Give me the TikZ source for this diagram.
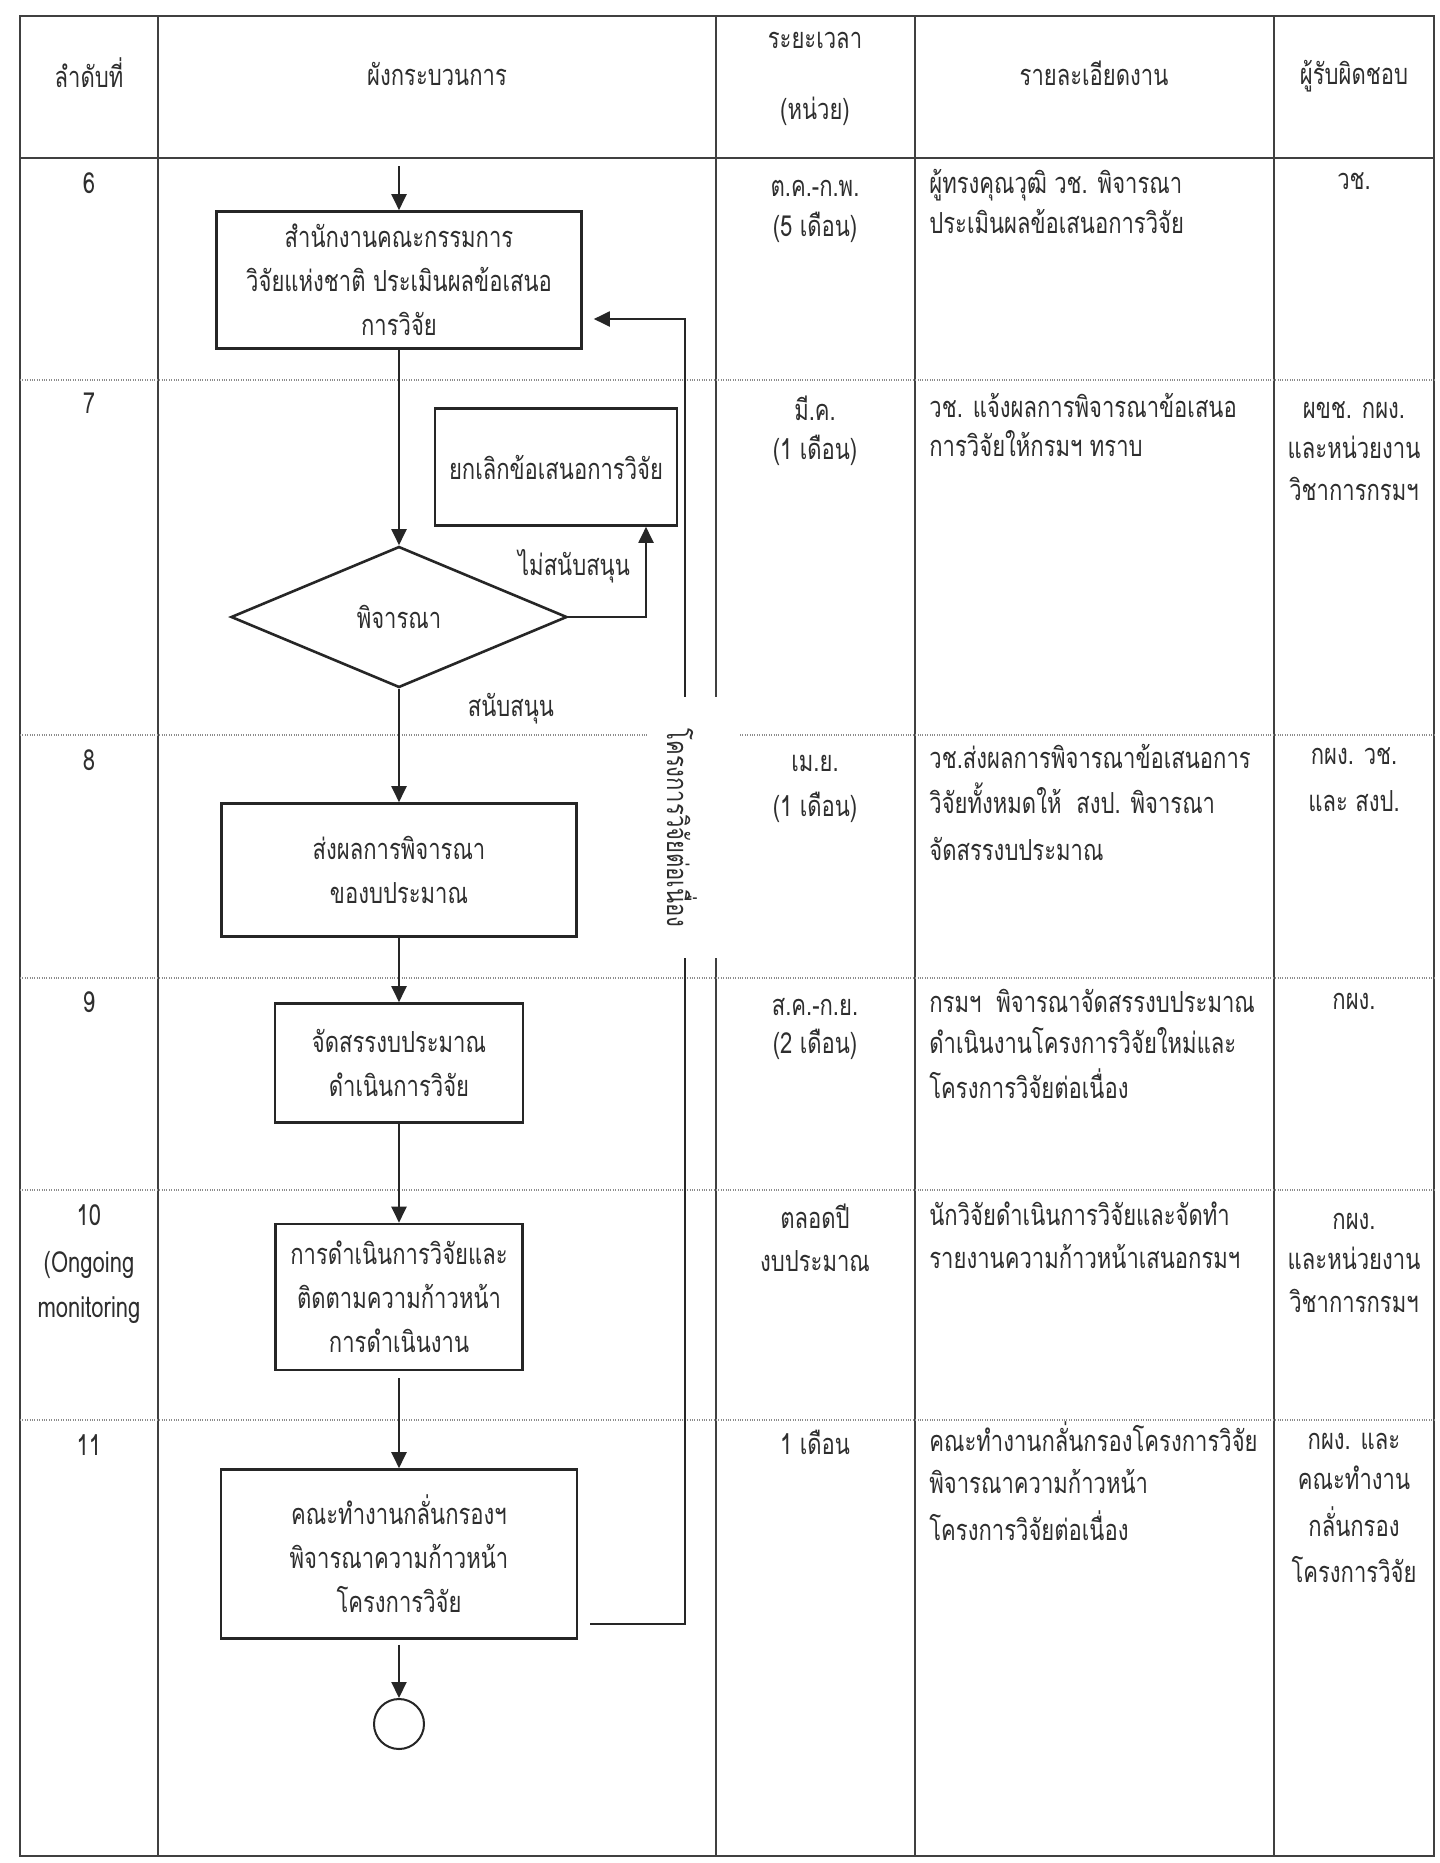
\documentclass[tikz,border=0pt]{standalone}
\usepackage{fontspec}
\newfontfamily\thai[Script=Thai,FakeStretch=0.76]{Loma}
\usetikzlibrary{arrows.meta,shapes.geometric,calc}
\begin{document}
\begin{tikzpicture}[x=0.5pt,y=-0.5pt,
 font={\thai\fontsize{14.5}{22}\selectfont},
 txt/.style={text=black!82, inner sep=0pt},
 cellc/.style={txt, anchor=base},
 celll/.style={txt, anchor=base west},
 tbl/.style={draw=black!75, line width=0.7pt},
 sep/.style={draw=black!45, line width=0.6pt, dash pattern=on 0.5pt off 0.7pt},
 box/.style={draw=black!85, line width=1.3pt, inner sep=0pt, align=center, text=black!82},
 conn/.style={draw=black!85, line width=1pt},
 arr/.style={conn, -{Triangle[length=8pt,width=7.5pt]}},
]
\useasboundingbox (0,0) rectangle (1440,1863);
\fill[white] (0,0) rectangle (1440,1863);

% table
\draw[tbl] (20,16) rectangle (1434,1856);
\draw[tbl] (20,158) -- (1434,158);
\foreach \x in {158,716,915,1274} \draw[tbl] (\x,16) -- (\x,1856);
\foreach \y in {380,735,978,1190,1420} \draw[sep] (20,\y) -- (1434,\y);

% centred cell texts
\foreach \x/\y/\t [count=\i] in {
 89/87/{ลำดับที่}, 437/85/{ผังกระบวนการ}, 815/48/{ระยะเวลา}, 815/119/{(หน่วย)},
 1094/85/{รายละเอียดงาน}, 1354/84/{ผู้รับผิดชอบ},
 89/193/{6}, 815/196/{ต.ค.-ก.พ.}, 815/236/{(5 เดือน)}, 1354/189/{วช.},
 89/413/{7}, 815/420/{มี.ค.}, 815/459/{(1 เดือน)},
 1354/418/{ผขช. กผง.}, 1354/458/{และหน่วยงาน}, 1354/500/{วิชาการกรมฯ},
 89/770/{8}, 815/771/{เม.ย.}, 815/816/{(1 เดือน)}, 1354/764/{กผง. วช.}, 1354/811/{และ สงป.},
 89/1012/{9}, 815/1015/{ส.ค.-ก.ย.}, 815/1053/{(2 เดือน)}, 1354/1009/{กผง.},
 89/1225/{10}, 89/1272/{(Ongoing}, 89/1317/{monitoring},
 815/1228/{ตลอดปี}, 815/1271/{งบประมาณ},
 1354/1229/{กผง.}, 1354/1269/{และหน่วยงาน}, 1354/1312/{วิชาการกรมฯ},
 89/1455/{11}, 815/1454/{1 เดือน},
 1354/1449/{กผง. และ}, 1354/1489/{คณะทำงาน}, 1354/1536/{กลั่นกรอง}, 1354/1582/{โครงการวิจัย}}
 \node[cellc] (cc\i) at (\x,\y) {\t};

% left-aligned detail texts
\foreach \y/\t [count=\i] in {
 193/{ผู้ทรงคุณวุฒิ วช. พิจารณา}, 233/{ประเมินผลข้อเสนอการวิจัย},
 417/{วช. แจ้งผลการพิจารณาข้อเสนอ}, 456/{การวิจัยให้กรมฯ ทราบ},
 768/{วช.ส่งผลการพิจารณาข้อเสนอการ}, 813/{วิจัยทั้งหมดให้\ \ สงป. พิจารณา}, 860/{จัดสรรงบประมาณ},
 1012/{กรมฯ\ \ พิจารณาจัดสรรงบประมาณ}, 1053/{ดำเนินงานโครงการวิจัยใหม่และ}, 1098/{โครงการวิจัยต่อเนื่อง},
 1225/{นักวิจัยดำเนินการวิจัยและจัดทำ}, 1268/{รายงานความก้าวหน้าเสนอกรมฯ},
 1451/{คณะทำงานกลั่นกรองโครงการวิจัย}, 1493/{พิจารณาความก้าวหน้า}, 1540/{โครงการวิจัยต่อเนื่อง}}
 \node[celll] (cd\i) at (929,\y) {\t};

% flowchart nodes
\node[box, minimum width=182.5pt, minimum height=68.5pt] (b1) at (399,280)
  {สำนักงานคณะกรรมการ\\วิจัยแห่งชาติ ประเมินผลข้อเสนอ\\การวิจัย};
\node[box, minimum width=121pt, minimum height=58.5pt] (b2) at (556,467) {ยกเลิกข้อเสนอการวิจัย};
\node[box, shape=diamond, minimum width=168pt, minimum height=70.5pt] (d1) at (399,617) {พิจารณา};
\node[box, minimum width=177.5pt, minimum height=66.5pt] (b3) at (399,870) {ส่งผลการพิจารณา\\ของบประมาณ};
\node[box, minimum width=124pt, minimum height=59.5pt] (b4) at (399,1063) {จัดสรรงบประมาณ\\ดำเนินการวิจัย};
\node[box, minimum width=123.5pt, minimum height=73pt] (b5) at (399,1297)
  {การดำเนินการวิจัยและ\\ติดตามความก้าวหน้า\\การดำเนินงาน};
\node[box, minimum width=178pt, minimum height=84.5pt] (b6) at (399,1554)
  {คณะทำงานกลั่นกรองฯ\\พิจารณาความก้าวหน้า\\โครงการวิจัย};
\node[draw=black!85, line width=1pt, circle, minimum size=25pt, inner sep=0pt] (end) at (399,1724) {};

% connectors
\coordinate (top0) at (399,166);
\draw[arr] (top0) -- (b1.north);
\draw[arr] (b1.south) -- (d1.north);
\coordinate (k1) at (646,617);
\draw[arr] (d1.east) -- (k1) -- (k1 |- b2.south);
\draw[arr] (d1.south) -- (b3.north);
\draw[arr] (b3.south) -- (b4.north);
\draw[arr] (b4.south) -- (b5.north);
\draw[arr] ([yshift=-3.5pt]b5.south) -- (b6.north);
\draw[arr] ([yshift=-2.5pt]b6.south) -- (end.north);
\coordinate (f2) at (685,1624);
\coordinate (f3) at (685,319);
\draw[arr] ($(b6.east|-f2)+(12,0)$) -- (f2) -- (f3) -- ($(b1.east|-f3)+(11,0)$);

% labels
\node[txt] (lno) at (574,566) {ไม่สนับสนุน};
\node[txt] (lyes) at (511,709) {สนับสนุน};

% vertical label over the lines
\node[fill=white, inner sep=0pt, minimum width=46pt, minimum height=130.5pt] (vgap) at (693,827.5) {};
\node[txt, rotate=-90] (vtext) at (682,828) {โครงการวิจัยต่อเนื่อง};
\end{tikzpicture}
\end{document}
